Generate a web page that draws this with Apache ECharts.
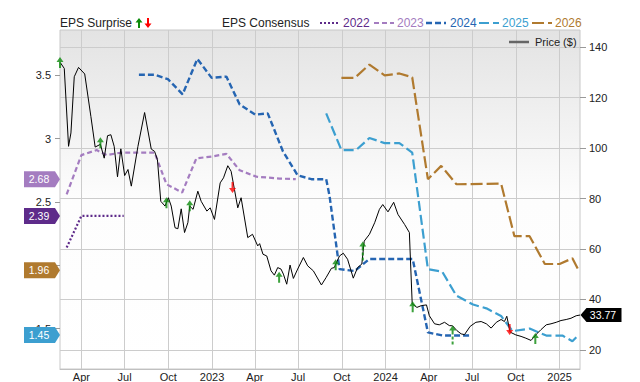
<!DOCTYPE html>
<html><head><meta charset="utf-8">
<script src="https://cdn.jsdelivr.net/npm/echarts@6/dist/echarts.min.js"></script>
<style>html,body{margin:0;padding:0;background:#fff}#c{width:640px;height:382px}</style>
</head><body><div id="c"></div>
<script>
// ---------- DATA ----------
const priceDates = ['2022-02-16','2022-02-24','2022-03-05','2022-03-10','2022-03-17','2022-03-26','2022-04-08','2022-04-21','2022-04-30','2022-05-11','2022-05-19','2022-05-26','2022-06-02','2022-06-09','2022-06-16','2022-06-23','2022-07-01','2022-07-08','2022-07-15','2022-07-29','2022-08-12','2022-08-26','2022-09-02','2022-09-08','2022-09-15','2022-09-24','2022-10-01','2022-10-07','2022-10-15','2022-10-21','2022-10-28','2022-11-04','2022-11-11','2022-11-15','2022-11-22','2022-12-02','2022-12-09','2022-12-21','2022-12-28','2023-01-06','2023-01-18','2023-01-25','2023-02-03','2023-02-10','2023-02-17','2023-02-24','2023-03-03','2023-03-17','2023-03-27','2023-04-07','2023-04-11','2023-04-18','2023-04-26','2023-05-05','2023-05-12','2023-05-19','2023-05-26','2023-05-31','2023-06-07','2023-06-14','2023-06-21','2023-06-30','2023-07-12','2023-07-21','2023-08-02','2023-08-19','2023-08-29','2023-09-09','2023-09-15','2023-09-26','2023-10-04','2023-10-13','2023-10-25','2023-11-03','2023-11-12','2023-11-17','2023-11-28','2023-12-09','2023-12-19','2023-12-26','2024-01-06','2024-01-18','2024-01-27','2024-02-10','2024-02-20','2024-02-26','2024-03-07','2024-03-16','2024-03-27','2024-04-02','2024-04-13','2024-04-23','2024-05-04','2024-05-14','2024-05-21','2024-05-30','2024-06-08','2024-06-15','2024-06-27','2024-07-09','2024-07-20','2024-07-31','2024-08-10','2024-08-21','2024-08-31','2024-09-07','2024-09-12','2024-09-19','2024-10-01','2024-10-12','2024-10-22','2024-11-02','2024-11-14','2024-11-23','2024-12-04','2024-12-14','2024-12-25','2025-01-04','2025-01-15','2025-01-25','2025-02-05','2025-02-13'];
const priceValues = [133.8,131.6,100.7,106,128.3,132,129.4,112.5,100.4,101.5,96,104.9,105.3,100.7,88.6,99.7,89.1,91.5,84.9,100.7,114.1,99.6,98.7,95.4,78.9,77,80.3,77,68.4,68,75.9,66.5,70.4,77,75.7,82.9,78.9,75,76.3,71.7,86.2,88.2,93,90.8,83.6,76.3,80.3,64.5,65.8,61.2,62.1,57.9,57.2,51.3,49.6,52.6,52,50,46,53.6,48.3,52,56.6,53.3,51.3,45.7,48.7,52.3,52.6,57.2,58.3,55.9,48.4,52.6,54,63.1,65.8,70.4,75.7,77.6,74.7,78.5,73.7,69.7,66.5,38.2,36.8,37.5,37.8,33.5,30.3,29.9,30.9,29.6,29.5,27.6,26.3,26,29.3,30.9,31.2,30.3,28.6,30.9,32,31.2,33.3,27,25.9,25.3,24.6,23.7,26.3,28,29.9,30.3,30.9,31.6,32,32.5,33.5,33.77];

const c2022Dates = ['2022-03-01','2022-04-01','2022-06-29'];
const c2022Values = [2.14,2.39,2.39];
const c2023Dates = ['2022-03-01','2022-04-01','2022-05-03','2022-05-24','2022-06-24','2022-09-02','2022-09-27','2022-10-30','2022-11-29','2023-01-03','2023-01-31','2023-02-28','2023-04-04','2023-05-23','2023-06-26'];
const c2023Values = [2.56,2.87,2.91,2.87,2.89,2.89,2.64,2.575,2.845,2.86,2.88,2.75,2.70,2.685,2.68];
const c2024Dates = ['2022-07-31','2022-09-02','2022-09-30','2022-10-31','2022-12-01','2022-12-31','2023-01-31','2023-02-28','2023-04-02','2023-04-28','2023-05-30','2023-06-30','2023-07-29','2023-08-29','2023-09-05','2023-09-26','2023-10-28','2023-11-28','2024-02-27','2024-03-30','2024-04-30','2024-06-29'];
const c2024Values = [3.505,3.505,3.47,3.35,3.63,3.48,3.49,3.27,3.19,3.20,2.90,2.71,2.68,2.68,2.55,1.97,1.955,2.05,2.05,1.47,1.445,1.445];
const c2025Dates = ['2023-08-29','2023-09-30','2023-10-31','2023-11-28','2023-12-30','2024-01-30','2024-02-26','2024-03-30','2024-04-29','2024-05-29','2024-07-03','2024-07-31','2024-08-31','2024-09-24','2024-10-30','2024-12-04','2025-01-07','2025-01-28','2025-02-10'];
const c2025Values = [3.20,2.91,2.91,3.005,2.965,2.965,2.89,1.97,1.95,1.76,1.69,1.66,1.60,1.48,1.50,1.445,1.445,1.40,1.45];
const c2026Dates = ['2023-09-30','2023-10-28','2023-11-28','2023-12-30','2024-01-30','2024-02-26','2024-03-30','2024-04-27','2024-05-29','2024-08-31','2024-09-28','2024-10-30','2024-12-01','2025-01-01','2025-01-28','2025-02-10'];
const c2026Values = [3.48,3.48,3.585,3.50,3.515,3.485,2.68,2.785,2.64,2.645,2.23,2.23,2.01,2.01,2.055,1.96];

const surpriseUpDates = ['2022-02-15','2022-05-11','2022-09-27','2022-11-15','2023-05-22','2023-09-18','2023-11-14','2024-02-27','2024-05-21','2024-11-11'];
const surpriseUpPrices = [133.9,102.1,78.3,77.1,48.8,53.7,59.2,37.1,25.9,24.5];
const surpriseDownDates = ['2023-02-13','2024-09-18'];
const surpriseDownPrices = [84.4,28];

const xTickDates = ['2022-04-01','2022-07-01','2022-10-01','2023-01-01','2023-04-01','2023-07-01','2023-10-01','2024-01-01','2024-04-01','2024-07-01','2024-10-01','2025-01-01'];
const epsTicks = [1.5,2,2.5,3,3.5];
const epsTickLabels = [1.5,2.5,3,3.5];   // "2" is hidden under the 1.96 badge in the reference
const priceTicks = [20,40,60,80,100,120,140];
const monthNames = ['Jan','Feb','Mar','Apr','May','Jun','Jul','Aug','Sep','Oct','Nov','Dec'];

// ---------- BUILD ----------
const ts = s => new Date(s + 'T00:00:00').getTime();
const pairs = (d, v) => d.map((s, i) => [ts(s), v[i]]);
const FONT = '"Liberation Sans", Arial, Helvetica, sans-serif';
const xMin = ts('2022-02-15'), xMax = ts('2025-02-13');
const xTicks = xTickDates.map(ts);

const consensus = [
  {name:'2022', d:c2022Dates, v:c2022Values, color:'#5e2b8a', dash:[2,2], width:2.2, badge:true},
  {name:'2023', d:c2023Dates, v:c2023Values, color:'#a47cc0', dash:[5,3], width:2.2, badge:true},
  {name:'2024', d:c2024Dates, v:c2024Values, color:'#2565b2', dash:[6,3], width:2.4, badge:false},
  {name:'2025', d:c2025Dates, v:c2025Values, color:'#3c9fd0', dash:[10,4], width:2.2, badge:true},
  {name:'2026', d:c2026Dates, v:c2026Values, color:'#b07a2f', dash:[12,4], width:2.2, badge:true}
];

const badgePath = 'path://M0,0 L31,0 L36,8 L31,16 L0,16 Z';
const series = consensus.map(c => {
  const last = c.v[c.v.length - 1];
  const s = {
    name: c.name, type:'line', yAxisIndex:0, symbol:'none', silent:true, z:3,
    lineStyle:{color:c.color, width:c.width, type:c.dash},
    data: pairs(c.d, c.v)
  };
  if (c.badge) {
    s.markPoint = {
      z: 10, silent:true,
      symbol: badgePath, symbolSize:[36,16], symbolOffset:[-18,0], symbolKeepAspect:false,
      itemStyle:{color:c.color},
      label:{show:true, color:'#fff', fontSize:10.5, fontFamily:FONT, offset:[-3,0], formatter: p => p.value.toFixed(2)},
      data:[{coord:[xMin, last], value:last}]
    };
  }
  return s;
});

const lastPrice = priceValues[priceValues.length - 1];
series.push({
  name:'Price ($)', type:'line', yAxisIndex:1, symbol:'none', silent:true, z:4,
  lineStyle:{color:'#000', width:1},
  data: pairs(priceDates, priceValues),
  markPoint:{
    z:10, silent:true,
    symbol:'path://M0,7 L6,0 L41,0 L41,14 L6,14 Z', symbolSize:[41,14], symbolOffset:[21,0], symbolKeepAspect:false,
    itemStyle:{color:'#000'},
    label:{show:true, color:'#fff', fontSize:10.5, fontFamily:FONT, offset:[2,0], formatter: p => p.value.toFixed(2)},
    data:[{coord:[xMax, lastPrice], value:lastPrice}]
  }
});

const upArrow = 'path://M3.5,0 L7,5 L4.5,5 L4.5,11 L2.5,11 L2.5,5 L0,5 Z';
const upArrowDashed = 'path://M3.5,0 L7,5 L0,5 Z M2.5,5 L4.5,5 L4.5,9 L2.5,9 Z M2.5,11 L4.5,11 L4.5,14 L2.5,14 Z M2.5,16 L4.5,16 L4.5,19 L2.5,19 Z';
const dashedStem = ['2023-11-14','2024-05-21'];
series.push({
  name:'Surprise Up', type:'scatter', yAxisIndex:1, z:6, silent:true, clip:false,
  itemStyle:{color:'#0b8a0b'},
  data: surpriseUpDates.map((d, i) => dashedStem.includes(d)
    ? {value:[ts(d), surpriseUpPrices[i]], symbol:upArrowDashed, symbolSize:[7,19]}
    : {value:[ts(d), surpriseUpPrices[i]], symbol:upArrow, symbolSize:[7,11]})
});
series.push({
  name:'Surprise Down', type:'scatter', yAxisIndex:1, z:6, silent:true, clip:false,
  symbol:'path://M2.5,0 L4.5,0 L4.5,6 L7,6 L3.5,11 L0,6 L2.5,6 Z', symbolSize:[7,11],
  itemStyle:{color:'#ff0000'},
  data: pairs(surpriseDownDates, surpriseDownPrices)
});

// legend (graphic)
const LY = 23;
const legendItems = [];
legendItems.push({type:'text', x:60, y:LY, style:{text:'EPS Surprise', fill:'#222', font:'12px '+FONT, verticalAlign:'middle'}});
legendItems.push({type:'polygon', shape:{points:[[139,18],[142.5,22.5],[140,22.5],[140,28],[138,28],[138,22.5],[135.5,22.5]]}, style:{fill:'#0b8a0b'}});
legendItems.push({type:'polygon', shape:{points:[[147,18],[149,18],[149,23.5],[151.5,23.5],[148,28],[144.5,23.5],[147,23.5]]}, style:{fill:'#ff0000'}});
legendItems.push({type:'text', x:222, y:LY, style:{text:'EPS Consensus', fill:'#222', font:'12px '+FONT, verticalAlign:'middle'}});
const legX = [[320,343],[374,397],[426,450],[479,502],[532,555]];
consensus.forEach((c, i) => {
  legendItems.push({type:'line', shape:{x1:legX[i][0], y1:LY, x2:legX[i][0]+20, y2:LY}, style:{stroke:c.color, lineWidth:c.width, lineDash:c.dash}});
  legendItems.push({type:'text', x:legX[i][1], y:LY, style:{text:c.name, fill:c.color, font:'12px '+FONT, verticalAlign:'middle'}});
});
legendItems.push({type:'line', z:20, shape:{x1:509, y1:42, x2:529, y2:42}, style:{stroke:'#666', lineWidth:2.5}});
legendItems.push({type:'text', z:20, x:535, y:42, style:{text:'Price ($)', fill:'#222', font:'11px '+FONT, verticalAlign:'middle'}});

const option = {
  animation:false,
  backgroundColor:'#fff',
  textStyle:{fontFamily:FONT},
  grid:{left:60, right:60, top:30, bottom:12, show:true,
    backgroundColor: new echarts.graphic.LinearGradient(0,0,0,1,[{offset:0,color:'#e3e3e3'},{offset:0.5,color:'#fdfdfd'},{offset:1,color:'#ffffff'}]),
    borderColor:'#c8c8c8', borderWidth:1},
  xAxis:{
    type:'value', min:xMin, max:xMax,
    axisLine:{show:true, lineStyle:{color:'#c0c0c0'}},
    axisTick:{show:false, customValues:xTicks},
    axisLabel:{customValues:xTicks, color:'#222', fontSize:11, fontFamily:FONT, margin:2, hideOverlap:false,
      formatter: v => { const d = new Date(v); return d.getMonth() === 0 ? String(d.getFullYear()) : monthNames[d.getMonth()]; }},
    splitLine:{show:true, lineStyle:{color:'#cccccc', width:1}}
  },
  yAxis:[
    {type:'value', position:'left', min:1.181, max:3.858,
      axisLine:{show:false},
      axisTick:{show:true, length:5, customValues:epsTicks, lineStyle:{color:'#999'}},
      axisLabel:{customValues:epsTickLabels, color:'#222', fontSize:11, fontFamily:FONT, margin:9},
      splitLine:{show:false}},
    {type:'value', position:'right', min:12.37, max:146.84,
      axisLine:{show:false},
      axisTick:{show:true, length:6, customValues:priceTicks, lineStyle:{color:'#999'}},
      axisLabel:{customValues:priceTicks, color:'#222', fontSize:11, fontFamily:FONT, margin:9},
      splitLine:{show:true, lineStyle:{color:'#cccccc', width:1}}}
  ],
  graphic: legendItems,
  series: series
};

const chart = echarts.init(document.getElementById('c'), null, {renderer:'svg', width:640, height:382});
chart.setOption(option);
</script>
</body></html>
